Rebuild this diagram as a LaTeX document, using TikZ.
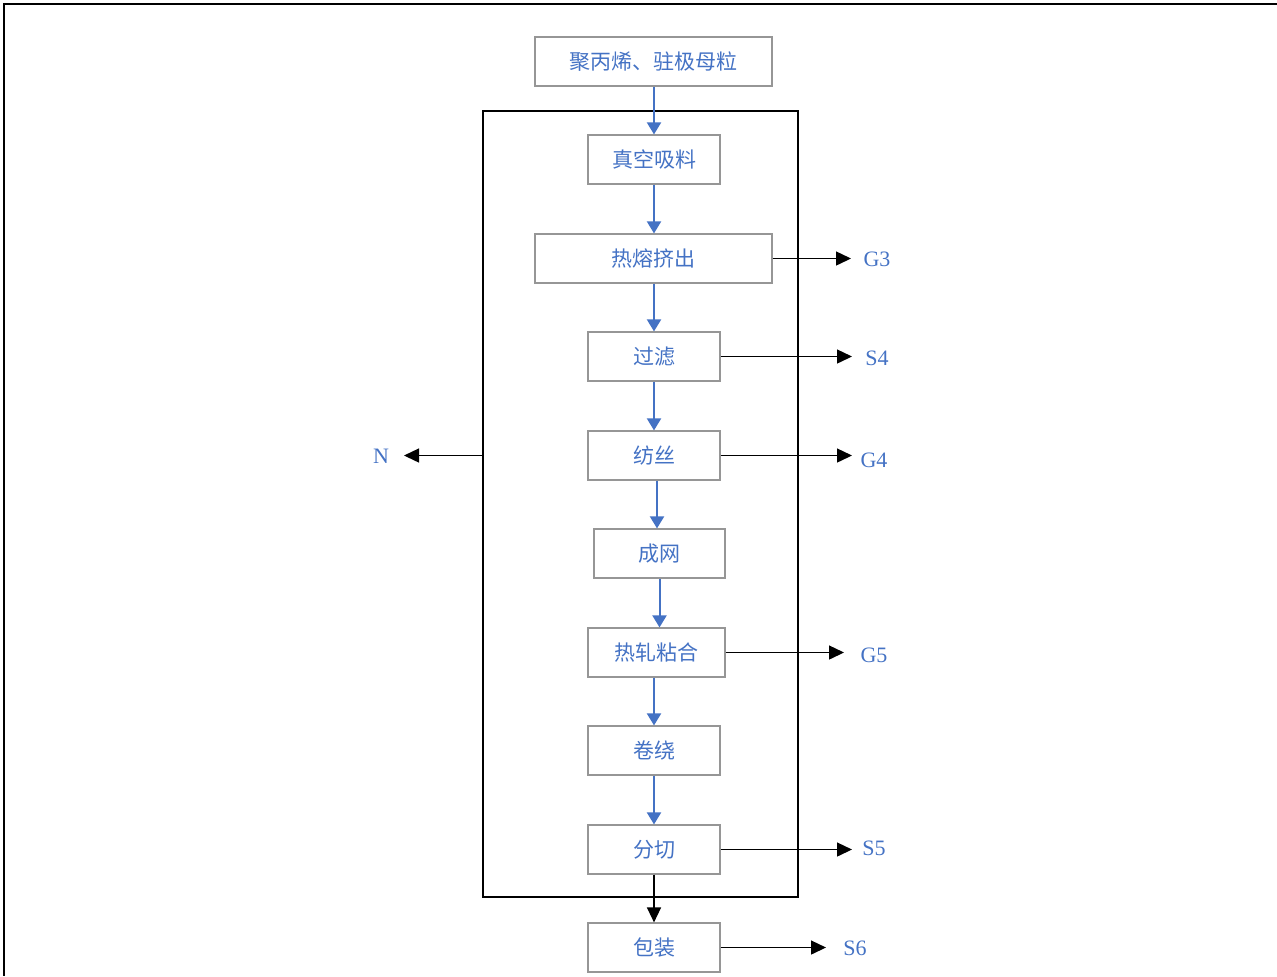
\documentclass[tikz,border=0pt]{standalone}
\usepackage{fontspec}
\setmainfont{Liberation Serif}
\newfontfamily\cjk{Noto Sans CJK SC}
\usetikzlibrary{arrows.meta}
\definecolor{txtblue}{HTML}{4472C4}
\definecolor{boxgray}{HTML}{969696}
\tikzset{
  pbox/.style={draw=boxgray, line width=0.6pt, minimum height=24.5pt, inner sep=0pt, font=\cjk\fontsize{10.5}{12}\selectfont, text=txtblue},
  blarrow/.style={draw=txtblue, line width=1pt, -{Triangle[width=7pt,length=6pt]}},
  bkarrow/.style={draw=black, line width=0.7pt, -{Triangle[width=7pt,length=7.5pt]}},
  outlab/.style={font=\fontsize{11}{13}\selectfont, text=txtblue, inner sep=0pt},
}
\begin{document}
\begin{tikzpicture}[x=0.5pt,y=-0.5pt]
\useasboundingbox (0,0) rectangle (1277,976);
% frame
\draw[line width=1pt] (1277,4) -- (4,4) -- (4,976);
% big enclosing box
\node[draw=black, line width=0.8pt, minimum width=157.5pt, minimum height=393pt, inner sep=0pt] (big) at (640.5,504) {};
% process boxes
\node[pbox, minimum width=118.5pt] (raw) at (653.5,61.5) {聚丙烯、驻极母粒};
\node[pbox, minimum width=66pt] (vac) at (654,159.5) {真空吸料};
\node[pbox, minimum width=118.5pt] (melt) at (653.5,258.5) {热熔挤出};
\node[pbox, minimum width=66pt] (filt) at (654,356.5) {过滤};
\node[pbox, minimum width=66pt] (spin) at (654,455.5) {纺丝};
\node[pbox, minimum width=65.5pt] (web) at (659.5,553.5) {成网};
\node[pbox, minimum width=68.5pt] (bond) at (656.5,652.5) {热轧粘合};
\node[pbox, minimum width=66pt] (wind) at (654,750.5) {卷绕};
\node[pbox, minimum width=66pt] (slit) at (654,849.5) {分切};
\node[pbox, minimum width=66pt] (pack) at (654,947.5) {包装};
% vertical flow
\coordinate (sw) at (657,480);
\draw[blarrow] (raw.south -| vac) -- (vac.north);
\draw[blarrow] (vac.south) -- (melt.north -| vac);
\draw[blarrow] (melt.south -| filt) -- (filt.north);
\draw[blarrow] (filt.south) -- (spin.north);
\draw[blarrow] (spin.south -| sw) -- (web.north -| sw);
\draw[blarrow] (web.south) -- (bond.north -| web);
\draw[blarrow] (bond.south -| wind) -- (wind.north);
\draw[blarrow] (wind.south) -- (slit.north);
\draw[bkarrow] (slit.south) -- (pack.north);
% outputs
\coordinate (eG3) at (851,259);
\coordinate (eS4) at (852,357);
\coordinate (eG4) at (852,456);
\coordinate (eG5) at (844,653);
\coordinate (eS5) at (852,850);
\coordinate (eS6) at (826,948);
\coordinate (eN) at (404,456);
\node[outlab] (G3) at (877,259) {G3};
\node[outlab] (S4) at (877,358) {S4};
\node[outlab] (G4) at (874,460) {G4};
\node[outlab] (G5) at (874,655) {G5};
\node[outlab] (S5) at (874,848) {S5};
\node[outlab] (S6) at (855,948) {S6};
\node[outlab] (N) at (381,456) {N};
\draw[bkarrow] (melt.east) -- (eG3 |- melt.east);
\draw[bkarrow] (filt.east) -- (eS4 |- filt.east);
\draw[bkarrow] (spin.east) -- (eG4 |- spin.east);
\draw[bkarrow] (bond.east) -- (eG5 |- bond.east);
\draw[bkarrow] (slit.east) -- (eS5 |- slit.east);
\draw[bkarrow] (pack.east) -- (eS6 |- pack.east);
\draw[bkarrow] (big.west |- spin) -- (eN |- spin);
\end{tikzpicture}
\end{document}
